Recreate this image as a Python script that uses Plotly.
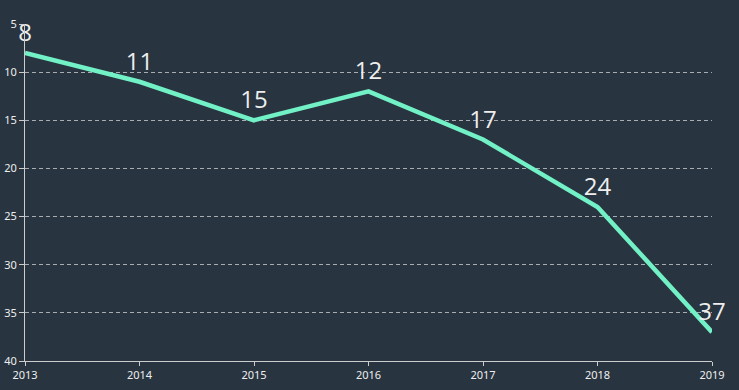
import plotly.graph_objects as go

years = [2013, 2014, 2015, 2016, 2017, 2018, 2019]
ranks = [8, 11, 15, 12, 17, 24, 37]
labels = [str(v) for v in ranks]
y_ticks = [5, 10, 15, 20, 25, 30, 35, 40]

bg = "#283440"
fig = go.Figure()
fig.add_trace(go.Scatter(
    x=years, y=ranks, mode="lines+markers+text", text=labels,
    textposition="top center",
    textfont=dict(size=24, color="#eeeeee", family="Open Sans, Noto Sans, sans-serif"),
    line=dict(color="#72f0c6", width=4.5),
    marker=dict(size=8, color="rgba(0,0,0,0)"),
    cliponaxis=False, hoverinfo="skip",
))
fig.update_layout(
    width=739, height=390,
    paper_bgcolor=bg, plot_bgcolor=bg,
    margin=dict(l=25, r=27, t=24, b=29),
    showlegend=False,
    font=dict(family="Noto Sans, DejaVu Sans, sans-serif", color="#dddddd", size=11),
)
fig.update_xaxes(
    range=[2013, 2019], tickvals=years, ticktext=[str(y) for y in years],
    showgrid=False, zeroline=False, showline=True, linecolor="#cccccc", linewidth=1,
    ticks="outside", ticklen=4, tickcolor="#cccccc", tickfont=dict(size=11, color="#eeeeee"),
    automargin=False,
)
fig.update_yaxes(
    range=[40, 5], tickvals=y_ticks,
    showgrid=True, gridcolor="#a8adb3", griddash="4px,3px", gridwidth=1,
    zeroline=False, showline=True, linecolor="#cccccc", linewidth=1,
    ticks="outside", ticklen=5, tickcolor="#cccccc", tickfont=dict(size=11, color="#eeeeee"),
    automargin=False,
)
fig.write_html(
    "out.html",
    config={"displayModeBar": False},
    post_script="document.body.style.margin='0';document.body.style.background='#283440';",
)
